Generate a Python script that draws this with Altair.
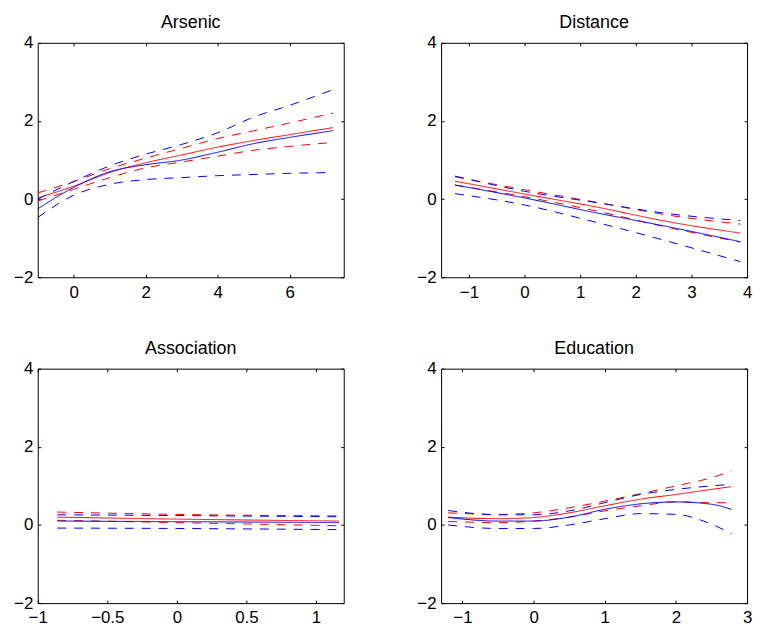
import altair as alt
import pandas as pd

FONT = "Liberation Sans"

# ---------------- data ----------------
TITLES = ["Arsenic", "Distance", "Association", "Education"]
X_DOMAINS = [[-1, 7.5], [-1.5, 4], [-1, 1.2], [-1.3, 3]]
X_TICKS = [[0, 2, 4, 6], [-1, 0, 1, 2, 3, 4], [-1, -0.5, 0, 0.5, 1], [-1, 0, 1, 2, 3]]
Y_TICKS = [-2, 0, 2, 4]

ARS_X = [-1, 0, 1, 2, 3, 4, 5, 6, 7.2]
ARS_RED_FIT = [0.03, 0.33, 0.68, 0.93, 1.13, 1.33, 1.50, 1.65, 1.83]
ARS_RED_UP = [0.16, 0.45, 0.78, 1.05, 1.30, 1.55, 1.75, 1.95, 2.20]
ARS_RED_LO = [-0.05, 0.25, 0.55, 0.80, 0.95, 1.10, 1.25, 1.35, 1.45]
ARS_BLUE_FIT = [-0.25, 0.30, 0.70, 0.88, 1.00, 1.20, 1.42, 1.58, 1.75]
ARS_BLUE_UP = [0.00, 0.45, 0.85, 1.15, 1.40, 1.70, 2.10, 2.40, 2.80]
ARS_BLUE_LO = [-0.47, 0.10, 0.38, 0.50, 0.55, 0.60, 0.63, 0.66, 0.68]

DIS_X = [-1.25, 0, 1.25, 2.63, 3.88]
DIS_RED_FIT = [0.46, 0.13, -0.19, -0.59, -0.87]
DIS_RED_UP = [0.57, 0.24, -0.07, -0.42, -0.64]
DIS_RED_LO = [0.36, 0.06, -0.29, -0.74, -1.10]
DIS_BLUE_FIT = [0.36, 0.03, -0.34, -0.72, -1.09]
DIS_BLUE_UP = [0.59, 0.20, -0.08, -0.38, -0.55]
DIS_BLUE_LO = [0.14, -0.15, -0.58, -1.10, -1.60]

ASS_X = [-0.86, 0, 1.166]
ASS_RED_FIT = [0.20, 0.15, 0.10]
ASS_RED_UP = [0.33, 0.27, 0.23]
ASS_RED_LO = [0.12, 0.06, -0.02]
ASS_BLUE_FIT = [0.10, 0.085, 0.06]
ASS_BLUE_UP = [0.26, 0.24, 0.21]
ASS_BLUE_LO = [-0.08, -0.09, -0.12]

EDU_X = [-1.2, -0.5, 0, 0.5, 1, 1.5, 2, 2.5, 2.78]
EDU_RED_FIT = [0.20, 0.16, 0.19, 0.31, 0.49, 0.66, 0.78, 0.91, 0.98]
EDU_RED_UP = [0.31, 0.27, 0.31, 0.44, 0.61, 0.80, 1.00, 1.21, 1.38]
EDU_RED_LO = [0.09, 0.06, 0.10, 0.20, 0.36, 0.49, 0.59, 0.57, 0.57]
EDU_BLUE_FIT = [0.19, 0.10, 0.10, 0.20, 0.40, 0.54, 0.59, 0.53, 0.40]
EDU_BLUE_UP = [0.37, 0.26, 0.26, 0.36, 0.57, 0.78, 0.91, 1.00, 1.04]
EDU_BLUE_LO = [0.00, -0.09, -0.09, 0.00, 0.16, 0.29, 0.27, 0.02, -0.22]

PANELS = [
    (ARS_X, ARS_RED_FIT, ARS_RED_UP, ARS_RED_LO, ARS_BLUE_FIT, ARS_BLUE_UP, ARS_BLUE_LO),
    (DIS_X, DIS_RED_FIT, DIS_RED_UP, DIS_RED_LO, DIS_BLUE_FIT, DIS_BLUE_UP, DIS_BLUE_LO),
    (ASS_X, ASS_RED_FIT, ASS_RED_UP, ASS_RED_LO, ASS_BLUE_FIT, ASS_BLUE_UP, ASS_BLUE_LO),
    (EDU_X, EDU_RED_FIT, EDU_RED_UP, EDU_RED_LO, EDU_BLUE_FIT, EDU_BLUE_UP, EDU_BLUE_LO),
]
SERIES = [("red", "fit"), ("red", "up"), ("red", "lo"),
          ("blue", "fit"), ("blue", "up"), ("blue", "lo")]

W, H = 308, 236
TICK = 3


def panel_df(p):
    xs = p[0]
    rows = []
    for (col, kind), ys in zip(SERIES, p[1:]):
        for x, y in zip(xs, ys):
            rows.append({"x": x, "y": y, "col": col,
                         "dash": "solid" if kind == "fit" else "dashed",
                         "series": f"{col}_{kind}"})
    return pd.DataFrame(rows)


def axis(orient, values, labels=True):
    common = dict(orient=orient, values=values, title=None,
                  grid=False, domain=False, ticks=True, tickSize=TICK,
                  offset=-TICK, tickColor="black", tickWidth=1,
                  labelFlush=False, labelOverlap=False)
    if labels:
        return alt.Axis(labels=True, labelFont=FONT, labelFontSize=17,
                        labelColor="black", format="~g",
                        labelPadding=5 if orient in ("left", "right") else 7,
                        **common)
    return alt.Axis(labels=False, labelFontSize=1, labelPadding=0,
                    minExtent=0, maxExtent=0, **common)


def make_panel(i):
    df = panel_df(PANELS[i])
    xs = alt.Scale(domain=X_DOMAINS[i], nice=False, zero=False)
    ys = alt.Scale(domain=[-2, 4], nice=False, zero=False)
    lines = alt.Chart(df).mark_line(strokeWidth=1, interpolate="monotone").encode(
        x=alt.X("x:Q", scale=xs, axis=axis("bottom", X_TICKS[i])),
        y=alt.Y("y:Q", scale=ys, axis=axis("left", Y_TICKS)),
        color=alt.Color("col:N", scale=alt.Scale(domain=["red", "blue"],
                                                 range=["#ff0000", "#0000ff"]),
                        legend=None),
        strokeDash=alt.StrokeDash("dash:N", scale=alt.Scale(domain=["solid", "dashed"],
                                                            range=[[1, 0], [9, 8]]),
                                  legend=None),
        detail="series:N",
    )
    frame_ticks = alt.Chart(df).mark_line(opacity=0).encode(
        x=alt.X("x:Q", scale=xs, axis=axis("top", X_TICKS[i], labels=False)),
        y=alt.Y("y:Q", scale=ys, axis=axis("right", Y_TICKS, labels=False)),
        detail="series:N",
    )
    return alt.layer(lines, frame_ticks).resolve_axis(
        x="independent", y="independent"
    ).properties(
        width=W, height=H,
        title=alt.TitleParams(TITLES[i], font=FONT, fontSize=18, fontWeight="normal",
                              color="black", anchor="middle", baseline="alphabetic",
                              frame="group", offset=-12),
    )


chart = alt.concat(*[make_panel(i) for i in range(4)], columns=2).properties(
    bounds="flush",
    spacing={"row": 92, "column": 98},
    padding={"left": 13, "top": 11, "right": 5, "bottom": 5},
).configure(background="white").configure_view(stroke="black", strokeWidth=1)

chart.save("out.html", embed_options={"renderer": "svg", "actions": False})
